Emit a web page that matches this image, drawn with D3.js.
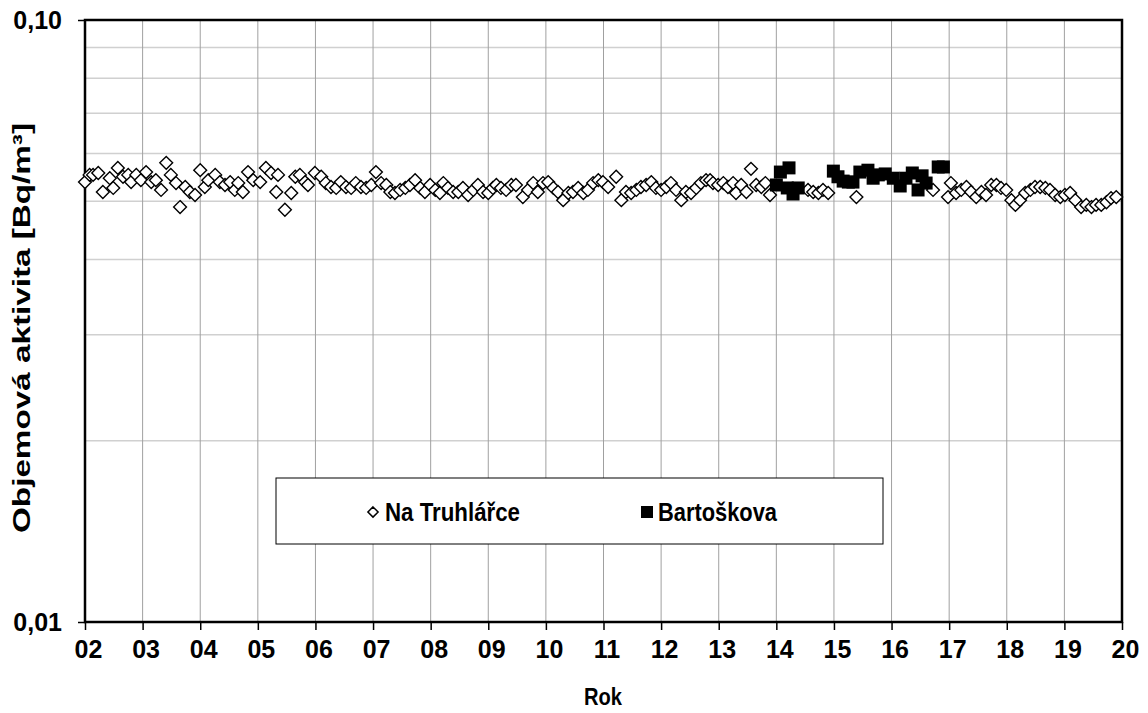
<!DOCTYPE html>
<html>
<head>
<meta charset="utf-8">
<script src="https://cdn.jsdelivr.net/npm/d3@7"></script>
<style>
  body { margin: 0; background: #fff; }
  text { font-family: "Liberation Sans", Arial, sans-serif; font-weight: bold; fill: #000; }
</style>
</head>
<body>
<svg width="1148" height="713"></svg>
<script>
// Na Truhlarce - rok (decimal, years since 2000) and volume activity [Bq/m3]
var truhlRok = [2.00,2.08,2.14,2.23,2.31,2.43,2.49,2.57,2.66,2.75,2.80,2.89,2.97,3.06,3.15,3.23,3.32,3.41,3.49,3.58,
  3.65,3.74,3.82,3.91,4.00,4.08,4.14,4.26,4.34,4.43,4.52,4.60,4.66,4.74,4.83,4.92,5.04,5.14,5.23,5.32,
  5.35,5.47,5.58,5.65,5.73,5.82,5.87,5.99,6.10,6.18,6.27,6.36,6.44,6.53,6.62,6.70,6.79,6.88,6.97,7.05,
  7.14,7.23,7.30,7.38,7.47,7.56,7.64,7.73,7.82,7.90,7.99,8.08,8.16,8.22,8.30,8.39,8.48,8.56,8.65,8.74,
  8.82,8.91,9.00,9.08,9.14,9.22,9.31,9.40,9.48,9.60,9.69,9.78,9.86,9.95,10.04,10.13,10.21,10.30,10.39,10.47,
  10.56,10.65,10.73,10.82,10.91,10.99,11.08,11.22,11.31,11.39,11.48,11.57,11.65,11.74,11.83,11.91,12.00,12.09,12.17,12.26,
  12.35,12.43,12.52,12.61,12.69,12.78,12.85,12.90,12.99,13.08,13.16,13.25,13.30,13.39,13.48,13.56,13.65,13.74,13.81,13.89,
  14.55,14.64,14.73,14.81,14.90,15.39,16.72,16.98,17.03,17.12,17.21,17.30,17.38,17.47,17.56,17.64,17.73,17.82,17.90,17.99,
  18.08,18.15,18.23,18.32,18.41,18.49,18.58,18.67,18.75,18.84,18.93,19.01,19.10,19.19,19.29,19.38,19.47,19.55,19.64,19.73,
  19.81,19.90];
var truhlVal = [0.0538,0.0553,0.0553,0.0557,0.0518,0.0546,0.0526,0.0568,0.0549,0.0553,0.0538,0.0553,0.0542,0.0559,0.0538,0.0542,0.0522,0.0579,0.0553,0.0536,
  0.0489,0.0528,0.0518,0.0512,0.0563,0.0528,0.0542,0.0553,0.0538,0.0532,0.0538,0.0522,0.0536,0.0518,0.0559,0.0542,0.0538,0.0568,0.0557,0.0518,
  0.0553,0.0484,0.0516,0.0549,0.0553,0.0538,0.0532,0.0557,0.0549,0.0536,0.0528,0.0526,0.0538,0.0528,0.0526,0.0536,0.0528,0.0526,0.0532,0.0559,
  0.0536,0.0532,0.0518,0.0516,0.0522,0.0526,0.0532,0.0542,0.0526,0.0518,0.0532,0.0522,0.0516,0.0536,0.0526,0.0518,0.0518,0.0526,0.0512,0.0522,
  0.0532,0.0518,0.0516,0.0526,0.0532,0.0526,0.0522,0.0532,0.0532,0.0508,0.0522,0.0536,0.0518,0.0536,0.0538,0.0526,0.0518,0.0502,0.0516,0.0518,
  0.0526,0.0516,0.0522,0.0536,0.0542,0.0538,0.0528,0.0549,0.0502,0.0518,0.0516,0.0522,0.0528,0.0532,0.0538,0.0526,0.0522,0.0528,0.0536,0.0522,
  0.0502,0.0518,0.0516,0.0526,0.0536,0.0542,0.0542,0.0536,0.0532,0.0536,0.0528,0.0536,0.0516,0.0532,0.0518,0.0566,0.0532,0.0528,0.0536,0.0512,
  0.0522,0.0518,0.0516,0.0522,0.0516,0.0508,0.0522,0.0508,0.0536,0.0516,0.0522,0.0528,0.0518,0.0508,0.0518,0.0512,0.0532,0.0532,0.0526,0.0522,
  0.0502,0.0493,0.0502,0.0516,0.0522,0.0528,0.0528,0.0526,0.0522,0.0512,0.0508,0.0512,0.0516,0.0502,0.0489,0.0493,0.0489,0.0493,0.0493,0.0498,
  0.0506,0.0508];

// Bartoskova
var bartRok = [14.00,14.07,14.19,14.22,14.29,14.38,14.99,15.07,15.16,15.25,15.33,15.45,15.59,15.68,15.77,15.89,16.03,16.15,16.25,16.36,
  16.46,16.53,16.60,16.81,16.90];
var bartVal = [0.0532,0.0559,0.0526,0.0568,0.0514,0.0526,0.0561,0.0549,0.0540,0.0538,0.0538,0.0559,0.0563,0.0546,0.0553,0.0555,0.0546,0.0530,0.0546,0.0557,
  0.0522,0.0551,0.0536,0.0570,0.0570];

var xTicks = d3.range(2, 21);
var yMinor = [0.02, 0.03, 0.04, 0.05, 0.06, 0.07, 0.08, 0.09];
var yLabels = [0.01, 0.10];
var seriesNames = ["Na Truhlářce", "Bartoškova"];

var svg = d3.select("svg");
var pLeft = 85, pTop = 20, pRight = 1122, pBottom = 622;
var fontFam = "'Liberation Sans', Arial, sans-serif";

var x = d3.scaleLinear().domain([2, 20]).range([pLeft, pRight]);
var y = d3.scaleLog().domain([0.01, 0.1]).range([pBottom, pTop]);

// grid
svg.append("g").selectAll("line").data(yMinor).enter().append("line")
  .attr("x1", pLeft).attr("x2", pRight)
  .attr("y1", d => y(d)).attr("y2", d => y(d))
  .attr("stroke", "#d0d0d0").attr("stroke-width", 1.5);

svg.append("g").selectAll("line").data(xTicks.slice(1, -1)).enter().append("line")
  .attr("x1", d => x(d)).attr("x2", d => x(d))
  .attr("y1", pTop).attr("y2", pBottom)
  .attr("stroke", "#a0a0a0").attr("stroke-width", 1);

// axes
var xAxis = d3.axisBottom(x).tickValues(xTicks)
  .tickFormat(d => d3.format("02d")(d)).tickSize(8).tickPadding(10);
var gx = svg.append("g").attr("transform", "translate(0," + pBottom + ")").call(xAxis);
gx.select(".domain").remove();
gx.selectAll("line").attr("stroke", "#000").attr("stroke-width", 1.5);
gx.selectAll("text").attr("font-size", 25).attr("dx", 3)
  .style("font-family", fontFam).style("font-weight", "bold");

var yAxis = d3.axisLeft(y).tickValues(yLabels)
  .tickFormat(d => d3.format(".2f")(d).replace(".", ",")).tickSize(7).tickPadding(16);
var gy = svg.append("g").attr("transform", "translate(" + pLeft + ",0)").call(yAxis);
gy.select(".domain").remove();
gy.selectAll("line").attr("stroke", "#000").attr("stroke-width", 1.5);
gy.selectAll("text").attr("font-size", 25)
  .style("font-family", fontFam).style("font-weight", "bold");

// plot frame
svg.append("rect").attr("x", pLeft).attr("y", pTop)
  .attr("width", pRight - pLeft).attr("height", pBottom - pTop)
  .attr("fill", "none").attr("stroke", "#000").attr("stroke-width", 2.5);

// series
var diamond = d3.symbol().type(d3.symbolDiamond2).size(105);
svg.append("g").selectAll("path").data(d3.zip(truhlRok, truhlVal)).enter().append("path")
  .attr("d", diamond)
  .attr("transform", d => "translate(" + x(d[0]) + "," + y(d[1]) + ")")
  .attr("fill", "#fff").attr("stroke", "#000").attr("stroke-width", 1.4);

svg.append("g").selectAll("rect").data(d3.zip(bartRok, bartVal)).enter().append("rect")
  .attr("x", d => x(d[0]) - 6.5).attr("y", d => y(d[1]) - 6.5)
  .attr("width", 13).attr("height", 13).attr("fill", "#000");

// legend
var lg = svg.append("g");
lg.append("rect").attr("x", 276).attr("y", 478).attr("width", 607).attr("height", 66)
  .attr("fill", "#fff").attr("stroke", "#000").attr("stroke-width", 1);
lg.append("path").attr("d", d3.symbol().type(d3.symbolDiamond2).size(66))
  .attr("transform", "translate(373,512)")
  .attr("fill", "#fff").attr("stroke", "#000").attr("stroke-width", 1.5);
lg.append("text").attr("x", 385).attr("y", 521).attr("font-size", 25)
  .attr("textLength", 135).attr("lengthAdjust", "spacingAndGlyphs").text(seriesNames[0]);
lg.append("rect").attr("x", 641).attr("y", 506).attr("width", 12).attr("height", 12).attr("fill", "#000");
lg.append("text").attr("x", 658).attr("y", 521).attr("font-size", 25)
  .attr("textLength", 119).attr("lengthAdjust", "spacingAndGlyphs").text(seriesNames[1]);

// axis titles
svg.append("text").attr("x", 603).attr("y", 705).attr("text-anchor", "middle")
  .attr("font-size", 24).attr("textLength", 38).attr("lengthAdjust", "spacingAndGlyphs").text("Rok");
svg.append("text").attr("transform", "translate(30,328) rotate(-90)").attr("text-anchor", "middle")
  .attr("font-size", 24).attr("textLength", 410).attr("lengthAdjust", "spacingAndGlyphs")
  .text("Objemová aktivita [Bq/m³]");
</script>
</body>
</html>
